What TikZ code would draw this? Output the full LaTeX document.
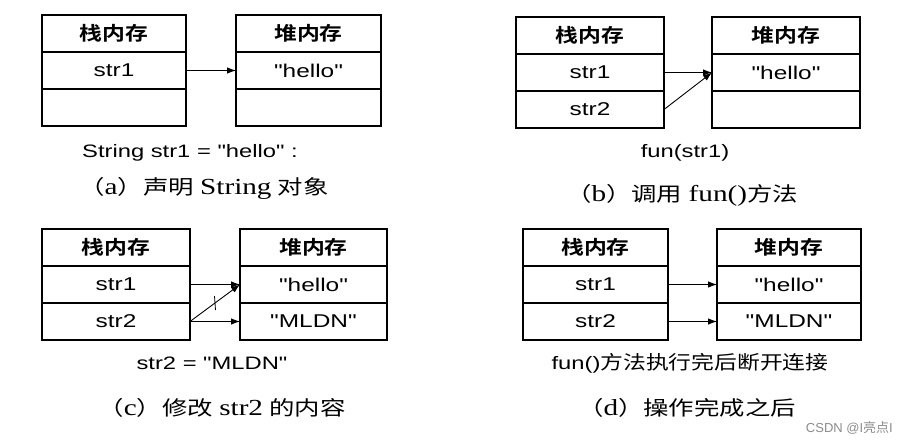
\documentclass[tikz,border=0pt]{standalone}
\usepackage{fontspec}
\setmainfont{Liberation Serif}
\newfontfamily\arx[FakeStretch=1.32]{Liberation Sans}
\newfontfamily\arn{Liberation Sans}
\newfontfamily\zhs{Noto Sans CJK SC}
\newfontfamily\zhsx[FakeStretch=1.2]{Noto Sans CJK SC}
\newfontfamily\zhb[FakeStretch=1.2]{Noto Sans CJK SC Bold}
\usetikzlibrary{arrows.meta}
\tikzset{
  cell/.style={draw, line width=1.3pt, outer sep=0pt, inner sep=0pt, minimum height=37pt, anchor=north},
  outerbox/.style={line width=2.5pt},
  hdr/.style={font=\zhb\fontsize{19}{19}\selectfont},
  val/.style={font=\arx\fontsize{18.5}{18}\selectfont},
  ptr/.style={-{Latex[length=9pt,width=6.5pt]}, line width=0.9pt},
  codetxt/.style={font=\arx\fontsize{18}{20}\selectfont, inner sep=0pt},
  captxt/.style={font=\fontsize{20}{24}\selectfont, inner sep=0pt},
  wm/.style={font=\arn\fontsize{13}{14}\selectfont, text=black!45, inner sep=0pt, anchor=east}
}
\newcommand\lat[1]{{\fontsize{23}{24}\selectfont #1}}
\newcommand\capline[1]{\scalebox{1.27}[1]{#1}}
\newcommand\membox[7]{%
  \node[cell,hdr,minimum width=#4pt,anchor=north west] (#1h) at (#2,#3) {#5};
  \node[cell,val,minimum width=#4pt] (#1a) at (#1h.south) {#6};
  \node[cell,val,minimum width=#4pt] (#1b) at (#1a.south) {#7};
  \draw[outerbox] (#1h.north west) rectangle (#1b.south east);}
\begin{document}
\begin{tikzpicture}[x=1pt,y=-1pt]
\path[use as bounding box, fill=white] (0,0) rectangle (907,445);
% (a)
\membox{as}{42}{15}{144}{栈内存}{str1}{}
\membox{ah}{236}{15}{145}{堆内存}{"hello"}{}
\draw[ptr] (asa.east) -- (aha.west);
\node[codetxt] (acode) at (190,153) {String str1 = "hello" :};
\node[captxt] (acap) at (204,188) {\capline{{\zhs （}\lat{a}{\zhs ）声明} \lat{String} {\zhs 对象}}};
% (b)
\membox{bs}{516}{17}{148}{栈内存}{str1}{str2}
\membox{bh}{712}{17}{148}{堆内存}{"hello"}{}
\draw[ptr] (bsa.east) -- (bha.west);
\draw[ptr] (bsb.east) -- (bha.west);
\node[codetxt] (bcode) at (685,153) {fun(str1)};
\node[captxt] (bcap) at (682,195) {\capline{{\zhs （}\lat{b}{\zhs ）调用} \lat{fun()}{\zhs 方法}}};
% (c)
\membox{cs}{42}{229}{148}{栈内存}{str1}{str2}
\membox{ch}{240}{229}{147}{堆内存}{"hello"}{"MLDN"}
\draw[ptr] (csa.east) -- (cha.west);
\draw[ptr] (csb.east) -- (cha.west);
\draw[ptr] (csb.east) -- (chb.west);
\path (csb.east) -- coordinate[pos=0.5] (ctick) (cha.west);
\draw[line width=0.8pt] ([shift={(-0.5,-7)}]ctick) -- ([shift={(0.5,7)}]ctick);
\node[codetxt] (ccode) at (212,363) {str2 = "MLDN"};
\node[captxt] (ccap) at (222,408) {\capline{{\zhs （}\lat{c}{\zhs ）修改} \lat{str2} {\zhs 的内容}}};
% (d)
\membox{ds}{523}{229}{145}{栈内存}{str1}{str2}
\membox{dh}{717}{229}{144}{堆内存}{"hello"}{"MLDN"}
\draw[ptr] (dsa.east) -- (dha.west);
\draw[ptr] (dsb.east) -- (dhb.west);
\node[codetxt] (dcode) at (690,363) {fun(){\zhsx\fontsize{19}{20}\selectfont 方法执行完后断开连接}};
\node[captxt] (dcap) at (687,408) {\capline{{\zhs （}\lat{d}{\zhs ）操作完成之后}}};
\node[wm] (mark) at (893,428) {CSDN @I{\zhs 亮点}I};
\end{tikzpicture}
\end{document}
